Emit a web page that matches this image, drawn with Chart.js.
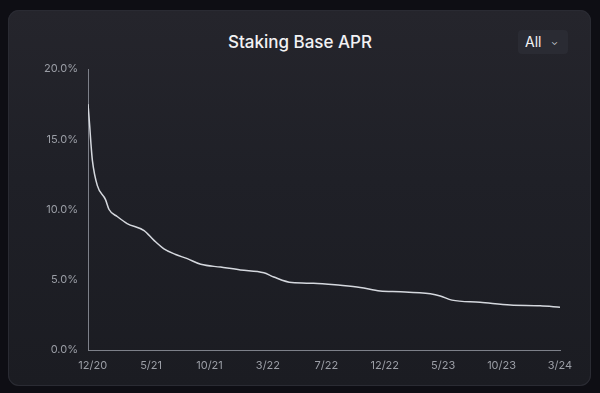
<!DOCTYPE html>
<html>
<head>
<meta charset="utf-8">
<script src="https://cdn.jsdelivr.net/npm/chart.js@4.4.1/dist/chart.umd.min.js"></script>
<style>
  html, body { margin: 0; padding: 0; }
  body {
    width: 600px; height: 393px; overflow: hidden;
    background: #0e0e14;
    font-family: Inter, "Noto Sans", sans-serif;
    position: relative;
  }
  .card {
    position: absolute; left: 8px; top: 10px; width: 583px; height: 376px;
    border-radius: 11px;
    background: linear-gradient(180deg, #25252c 0%, #1f2027 45%, #1b1c22 100%);
    box-shadow: inset 0 0 0 1px #2a2b33;
  }
  .title {
    position: absolute; left: 0; top: 32px; width: 600px; text-align: center;
    color: #f2f2f4; font-size: 17px; font-weight: 500;
  }
  .range {
    position: absolute; left: 518px; top: 30px; width: 50px; height: 24px;
    border-radius: 4px; background: #2a2b33;
    color: #f2f2f4; font-size: 14px; line-height: 24px;
  }
  .range span { position: absolute; left: 7px; }
  .range i { position: absolute; left: 33px; top: 0; font-style: normal; font-size: 9px; color: #c9cad0; }
  #chart { position: absolute; left: 0; top: 0; }
</style>
</head>
<body>
<div class="card"></div>
<div class="title">Staking Base APR</div>
<div class="range"><span>All</span><i>&#8964;</i></div>
<canvas id="chart" width="600" height="393"></canvas>
<script>
// x axis tick labels (one per tick position 0..8)
const tickLabels = ['12/20', '5/21', '10/21', '3/22', '7/22', '12/22', '5/23', '10/23', '3/24'];

// position of each sample along the x axis, in tick units
const pointPos = [-0.08, -0.05, -0.03, -0.005, 0.08, 0.22, 0.28, 0.42, 0.59, 0.88, 1.05, 1.22, 1.42, 1.62,
  1.85, 2.19, 2.53, 2.93, 3.10, 3.41, 3.78, 4.24, 4.58, 4.92, 5.27, 5.78, 5.95, 6.15, 6.63, 7.15, 7.66, 8.0];

// staking base APR in percent
const aprValues = [17.5, 15.9, 14.7, 13.5, 11.7, 10.7, 10.0, 9.5, 9.0, 8.5, 7.8, 7.2, 6.8, 6.5,
  6.1, 5.9, 5.7, 5.5, 5.2, 4.8, 4.75, 4.6, 4.45, 4.2, 4.15, 4.0, 3.85, 3.55, 3.4, 3.2, 3.15, 3.05];

const axisColor = '#7d8089';
const tickColor = '#9b9ea6';

const ctx = document.getElementById('chart').getContext('2d');
new Chart(ctx, {
  type: 'line',
  data: {
    datasets: [{
      label: 'APR',
      data: pointPos.map((x, i) => ({ x: x, y: aprValues[i] })),
      borderColor: '#d5d8de',
      borderWidth: 1.5,
      pointRadius: 0,
      cubicInterpolationMode: 'monotone',
      fill: false
    }]
  },
  options: {
    responsive: false,
    animation: false,
    layout: { padding: { left: 0, right: 40, top: 69, bottom: 13 } },
    plugins: { legend: { display: false }, tooltip: { enabled: false } },
    scales: {
      x: {
        type: 'linear',
        min: -0.08,
        max: 8,
        grid: { display: false, drawTicks: false },
        border: { display: true, color: axisColor, width: 1 },
        afterBuildTicks: (scale) => {
          scale.ticks = tickLabels.map((_, i) => ({ value: i }));
        },
        afterFit: (scale) => { scale.height = 30; },
        ticks: {
          color: tickColor,
          padding: 9,
          maxRotation: 0,
          autoSkip: false,
          font: { family: 'Inter', size: 11 },
          callback: (v) => tickLabels[v]
        }
      },
      y: {
        min: 0,
        max: 20,
        grid: { display: false, drawTicks: false },
        border: { display: true, color: axisColor, width: 1 },
        afterFit: (scale) => { scale.width = 88; },
        ticks: {
          stepSize: 5,
          color: tickColor,
          padding: 10,
          font: { family: 'Inter', size: 11 },
          callback: (v) => v.toFixed(1) + '%'
        }
      }
    }
  }
});
</script>
</body>
</html>
